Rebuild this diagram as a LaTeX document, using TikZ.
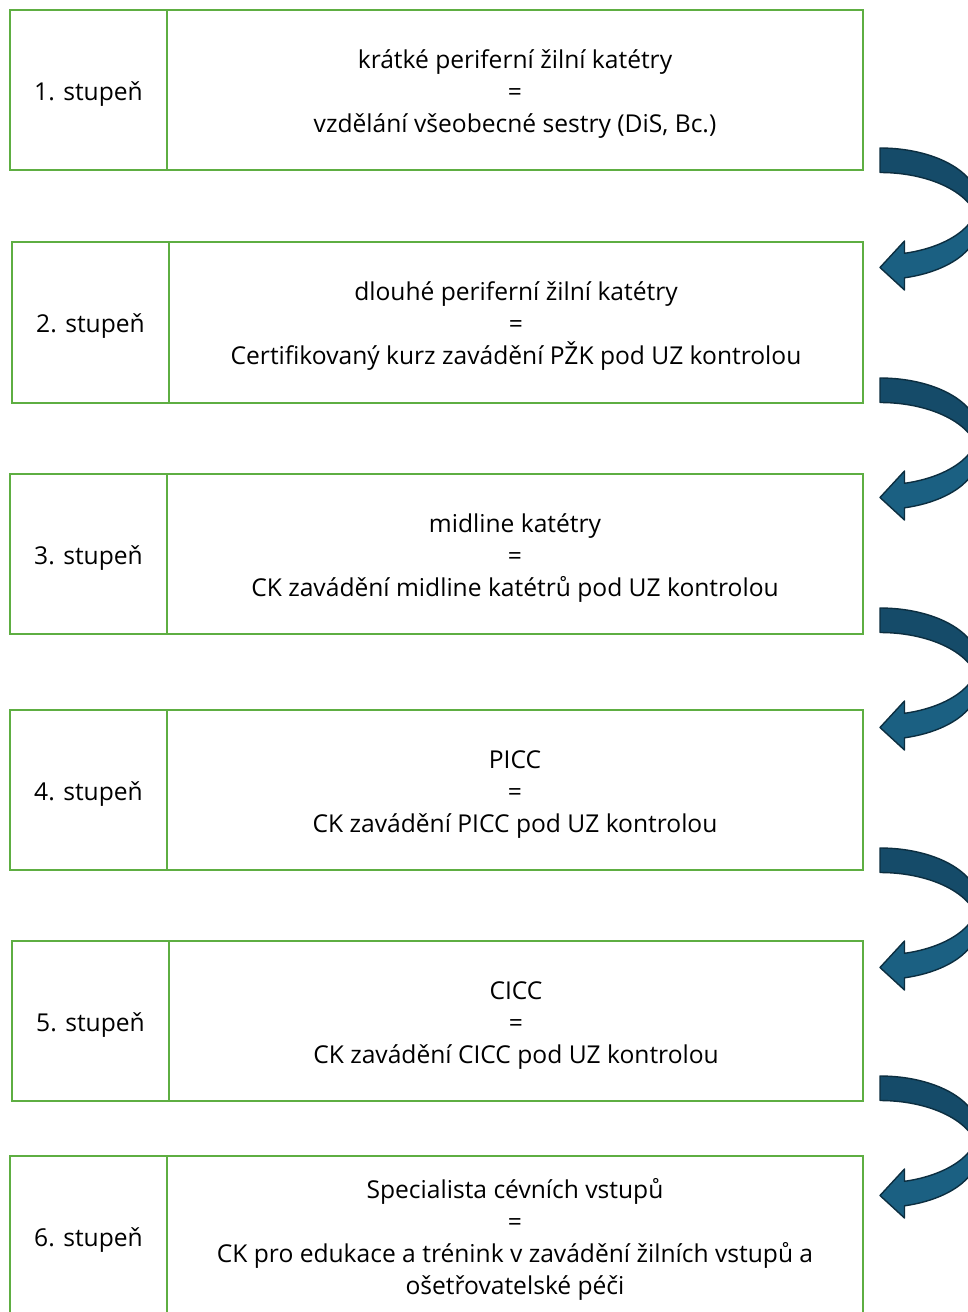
\documentclass[tikz,border=0pt]{standalone}
\usepackage{fontspec}
\setmainfont{Open Sans}
\usetikzlibrary{positioning}
\definecolor{stagegreen}{RGB}{94, 174, 66}
\definecolor{arrowdark}{RGB}{21, 75, 105}
\definecolor{arrowlight}{RGB}{27, 96, 130}
\definecolor{arrowline}{RGB}{12, 46, 64}
\newcommand{\topstrut}{\rule{0pt}{26pt}}
\tikzset{
    cellbox/.style={draw=stagegreen, line width=2pt, rectangle, inner sep=0pt, minimum height=160pt, align=center,
        font=\fontsize{24.6}{32}\selectfont},
    stagebox/.style={cellbox, minimum width=157pt},
    descbox/.style={cellbox, minimum width=696pt},
    bandback/.style={fill=arrowdark, draw=arrowline, line width=1.4pt, line join=round},
    bandfront/.style={fill=arrowlight, draw=arrowline, line width=1.4pt, line join=round},
}
\begin{document}
\begin{tikzpicture}[x=1pt, y=-1pt]
                \useasboundingbox (0,0) rectangle (968,1312);
                \clip (0,0) rectangle (968,1312);

                % Stage 1
                \node[stagebox] (st1) at (88.5,90) {\topstrut 1. stupeň};
                \node[descbox] (desc1) at (515,90)
                      {\topstrut krátké periferní žilní katétry\\=\\vzdělání všeobecné sestry (DiS, Bc.)};

                % Stage 2
                \node[stagebox, minimum height=161pt] (st2) at (90.5,322.5) {\topstrut 2. stupeň};
                \node[descbox, minimum width=694pt, minimum height=161pt] (desc2) at (516,322.5)
                      {\topstrut dlouhé periferní žilní katétry\\=\\Certifikovaný kurz zavádění PŽK pod UZ kontrolou};

                % Stage 3
                \node[stagebox] (st3) at (88.5,554) {\topstrut 3. stupeň};
                \node[descbox] (desc3) at (515,554)
                      {\topstrut midline katétry\\=\\CK zavádění midline katétrů pod UZ kontrolou};

                % Stage 4
                \node[stagebox] (st4) at (88.5,790) {\topstrut 4. stupeň};
                \node[descbox] (desc4) at (515,790)
                      {\topstrut PICC\\=\\CK zavádění PICC pod UZ kontrolou};

                % Stage 5
                \node[stagebox] (st5) at (90.5,1021) {\topstrut 5. stupeň};
                \node[descbox, minimum width=694pt] (desc5) at (516,1021)
                      {\topstrut CICC\\=\\CK zavádění CICC pod UZ kontrolou};

                % Stage 6
                \node[stagebox] (st6) at (88.5,1236) {\topstrut 6. stupeň};
                \node[descbox] (desc6) at (515,1236)
                      {\topstrut Specialista cévních vstupů\\=\\CK pro edukace a trénink v zavádění žilních vstupů a\\ošetřovatelské péči};

                % Curved arrows between stages
                \foreach \t in {148,378,608,848,1076} {
                    \begin{scope}[shift={(880,\t)}]
                        \path[bandback] (0,0) arc[start angle=-90, end angle=0, x radius=98, y radius=53.5]
                              -- (98,78) arc[start angle=0, end angle=-90, x radius=98, y radius=53.5] -- cycle;
                        \path[bandfront] (24.5,105.3) arc[start angle=75.52, end angle=0, x radius=98, y radius=53.5]
                              -- (98,78) arc[start angle=0, end angle=75.52, x radius=98, y radius=53.5]
                              -- (24.5,142) -- (0,119.5) -- (24.5,93) -- cycle;
                    \end{scope}
                }
\end{tikzpicture}
\end{document}
